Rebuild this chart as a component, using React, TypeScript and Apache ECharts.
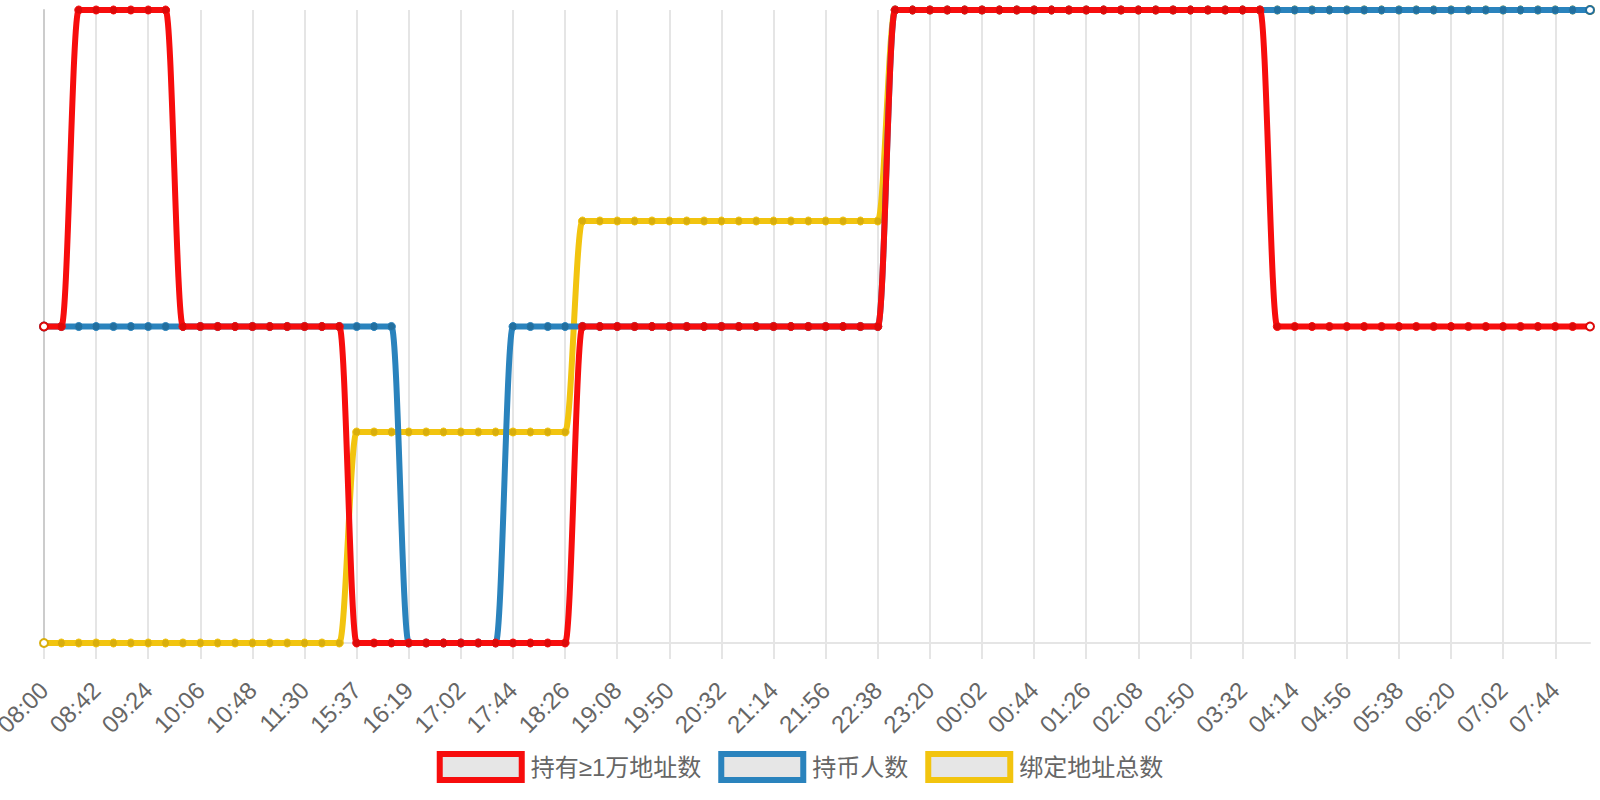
import React, { useEffect, useRef } from "react";
import * as echarts from "echarts";

const categories: string[] = [
  "08:00", "08:14", "08:28", "08:42", "08:56", "09:10", "09:24", "09:38", "09:52", "10:06",
  "10:20", "10:34", "10:48", "11:02", "11:16", "11:30", "11:44", "11:58", "15:37", "15:51",
  "16:05", "16:19", "16:33", "16:48", "17:02", "17:16", "17:30", "17:44", "17:58", "18:12",
  "18:26", "18:40", "18:54", "19:08", "19:22", "19:36", "19:50", "20:04", "20:18", "20:32",
  "20:46", "21:00", "21:14", "21:28", "21:42", "21:56", "22:10", "22:24", "22:38", "22:52",
  "23:06", "23:20", "23:34", "23:48", "00:02", "00:16", "00:30", "00:44", "00:58", "01:12",
  "01:26", "01:40", "01:54", "02:08", "02:22", "02:36", "02:50", "03:04", "03:18", "03:32",
  "03:46", "04:00", "04:14", "04:28", "04:42", "04:56", "05:10", "05:24", "05:38", "05:52",
  "06:06", "06:20", "06:34", "06:48", "07:02", "07:16", "07:30", "07:44", "07:58", "08:12",
];

const seriesNames: string[] = ["持有≥1万地址数", "持币人数", "绑定地址总数"];

const redValues: number[] = [
  3, 3, 6, 6, 6, 6, 6, 6, 3, 3,
  3, 3, 3, 3, 3, 3, 3, 3, 0, 0,
  0, 0, 0, 0, 0, 0, 0, 0, 0, 0,
  0, 3, 3, 3, 3, 3, 3, 3, 3, 3,
  3, 3, 3, 3, 3, 3, 3, 3, 3, 6,
  6, 6, 6, 6, 6, 6, 6, 6, 6, 6,
  6, 6, 6, 6, 6, 6, 6, 6, 6, 6,
  6, 3, 3, 3, 3, 3, 3, 3, 3, 3,
  3, 3, 3, 3, 3, 3, 3, 3, 3, 3,
];

const blueValues: number[] = [
  3, 3, 3, 3, 3, 3, 3, 3, 3, 3,
  3, 3, 3, 3, 3, 3, 3, 3, 3, 3,
  3, 0, 0, 0, 0, 0, 0, 3, 3, 3,
  3, 3, 3, 3, 3, 3, 3, 3, 3, 3,
  3, 3, 3, 3, 3, 3, 3, 3, 3, 6,
  6, 6, 6, 6, 6, 6, 6, 6, 6, 6,
  6, 6, 6, 6, 6, 6, 6, 6, 6, 6,
  6, 6, 6, 6, 6, 6, 6, 6, 6, 6,
  6, 6, 6, 6, 6, 6, 6, 6, 6, 6,
];

const yellowValues: number[] = [
  0, 0, 0, 0, 0, 0, 0, 0, 0, 0,
  0, 0, 0, 0, 0, 0, 0, 0, 2, 2,
  2, 2, 2, 2, 2, 2, 2, 2, 2, 2,
  2, 4, 4, 4, 4, 4, 4, 4, 4, 4,
  4, 4, 4, 4, 4, 4, 4, 4, 4, 6,
  6, 6, 6, 6, 6, 6, 6, 6, 6, 6,
  6, 6, 6, 6, 6, 6, 6, 6, 6, 6,
  6, 6, 6, 6, 6, 6, 6, 6, 6, 6,
  6, 6, 6, 6, 6, 6, 6, 6, 6, 6,
];

const lineColors = ["#f70d0d", "#2a83bd", "#f2c40f"];
const dotColors = ["#dc0909", "#226f9f", "#d9ae0c"];

const FONT = "'Liberation Sans', 'Noto Sans CJK SC', sans-serif";

function buildData(values: number[]) {
  return values.map((v, i) =>
    i === 0 || i === values.length - 1
      ? { value: v, symbol: "emptyCircle", symbolSize: 8 }
      : v
  );
}

export default function App() {
  const ref = useRef<HTMLDivElement>(null);

  useEffect(() => {
    if (!ref.current) return;
    document.body.style.margin = "0";
    const chart = echarts.init(ref.current, undefined, { renderer: "svg" });
    const allValues = [redValues, blueValues, yellowValues];
    chart.setOption({
      animation: false,
      textStyle: { fontFamily: FONT },
      grid: {
        left: 44,
        right: 10,
        top: 10,
        bottom: 157,
        containLabel: false,
        outerBoundsMode: "none",
      },
      legend: {
        bottom: 12,
        left: "center",
        itemWidth: 82,
        itemHeight: 26,
        itemGap: 17,
        icon: "rect",
        textStyle: { fontSize: 24, color: "#666666", fontFamily: FONT, padding: [0, 0, 0, 4] },
        data: seriesNames.map((n, i) => ({
          name: n,
          icon: "rect",
          itemStyle: { color: "#e6e6e6", borderColor: lineColors[i], borderWidth: 6 },
        })),
      },
      xAxis: {
        type: "category",
        data: categories,
        boundaryGap: false,
        axisLine: { show: true, lineStyle: { color: "#e5e5e5", width: 2 } },
        axisTick: { show: true, interval: 2, length: 16, lineStyle: { color: "#e5e5e5", width: 2 } },
        axisLabel: {
          interval: 2,
          rotate: 45,
          fontSize: 24,
          color: "#666666",
          margin: 43,
          fontFamily: FONT,
        },
        splitLine: { show: true, interval: 2, lineStyle: { color: "#e5e5e5", width: 2 } },
      },
      yAxis: {
        type: "value",
        min: 0,
        max: 6,
        axisLabel: { show: false },
        axisTick: { show: false },
        splitLine: { show: false },
        axisLine: { show: true, lineStyle: { color: "#cccccc", width: 2 } },
      },
      series: seriesNames.map((n, i) => ({
        name: n,
        type: "line",
        data: buildData(allValues[i]),
        smooth: 0.2,
        z: 10 - i,
        symbol: "circle",
        symbolSize: 8,
        showSymbol: true,
        lineStyle: { color: lineColors[i], width: 6 },
        itemStyle: { color: dotColors[i], borderColor: lineColors[i], borderWidth: 1 },
      })),
    });
    return () => chart.dispose();
  }, []);

  return <div ref={ref} style={{ width: 1600, height: 800 }} />;
}
